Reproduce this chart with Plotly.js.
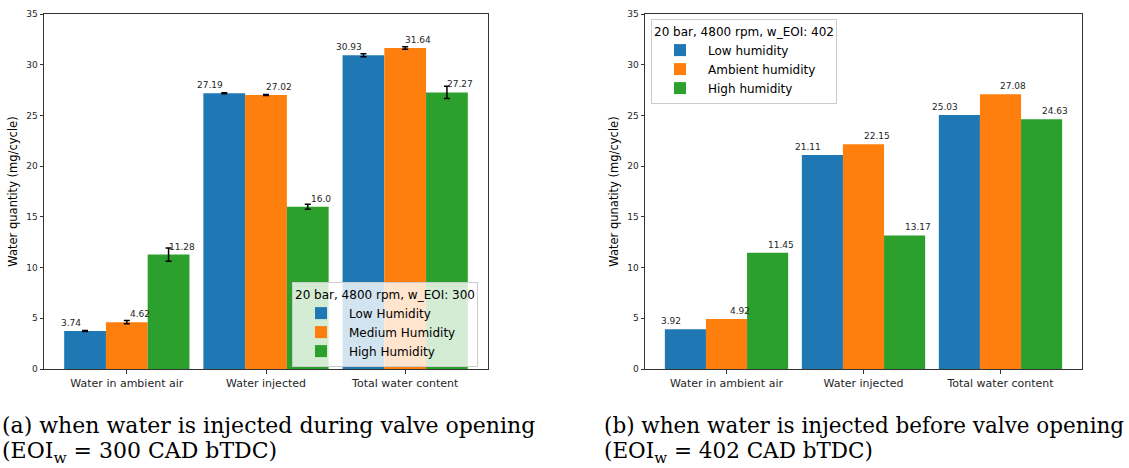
<!DOCTYPE html>
<html>
<head>
<meta charset="utf-8">
<script src="https://cdn.plot.ly/plotly-3.0.1.min.js"></script>
<style>html,body{margin:0;padding:0;background:#fff;}#chart{width:1129px;height:468px;}</style>
</head>
<body>
<div id="chart"></div>
<script>
const categories = ["Water in ambient air", "Water injected", "Total water content"];
const yTicks = [0, 5, 10, 15, 20, 25, 30, 35];

// Panel (a): EOI_w = 300
const seriesNamesA = ["Low Humidity", "Medium Humidity", "High Humidity"];
const lowA = [3.74, 27.19, 30.93];
const medA = [4.62, 27.02, 31.64];
const highA = [11.28, 16.0, 27.27];
const lowErrA = [0.05, 0.05, 0.15];
const medErrA = [0.16, 0.05, 0.12];
const highErrA = [0.66, 0.25, 0.6];
const legendTitleA = "20 bar, 4800 rpm, w_EOI: 300";

// Panel (b): EOI_w = 402
const seriesNamesB = ["Low humidity", "Ambient humidity", "High humidity"];
const lowB = [3.92, 21.11, 25.03];
const ambB = [4.92, 22.15, 27.08];
const highB = [11.45, 13.17, 24.63];
const legendTitleB = "20 bar, 4800 rpm, w_EOI: 402";

const captionA = ["(a) when water is injected during valve opening", "(EOI<sub>w</sub> = 300 CAD bTDC)"];
const captionB = ["(b) when water is injected before valve opening", "(EOI<sub>w</sub> = 402 CAD bTDC)"];

const colors = ["#1f77b4", "#ff7f0e", "#2ca02c"];
const xs = categories.map((_, i) => i);

function fmt(v) { return Number.isInteger(v) ? v.toFixed(1) : String(v); }

const traces = [];
const annotations = [];

function addPanel(seriesVals, errs, names, xa, ya, legendId) {
  seriesVals.forEach((vals, j) => {
    const t = {
      type: "bar", x: xs, y: vals, name: names[j],
      marker: {color: colors[j], line: {width: 0}},
      xaxis: xa, yaxis: ya, legend: legendId, hoverinfo: "y"
    };
    if (errs) {
      t.error_y = {type: "data", array: errs[j], visible: true, color: "#000", thickness: 1.5, width: 3};
    }
    traces.push(t);
    vals.forEach((v, i) => {
      annotations.push({
        xref: xa, yref: ya, x: i + (j - 1) * 0.3, y: v,
        text: fmt(v), showarrow: false, yanchor: "bottom", yshift: 1,
        xshift: j === 0 ? -14 : 13,
        font: {family: "DejaVu Sans", size: 9, color: "#262626"}
      });
    });
  });
}

addPanel([lowA, medA, highA], [lowErrA, medErrA, highErrA], seriesNamesA, "x", "y", "legend");
addPanel([lowB, ambB, highB], null, seriesNamesB, "x2", "y2", "legend2");

function caption(lines, x, size) {
  const f = {family: "DejaVu Serif", size: size, color: "#000"};
  annotations.push(
    {xref: "paper", yref: "paper", x: x, y: 1 - 425/468, xanchor: "left", yanchor: "middle", showarrow: false,
     text: lines[0], font: f},
    {xref: "paper", yref: "paper", x: x, y: 1 - 452/468, xanchor: "left", yanchor: "middle", showarrow: false,
     text: lines[1], font: f}
  );
}
caption(captionA, 0, 22);
caption(captionB, 602/1129, 21.5);

const tickFont = {family: "DejaVu Sans", size: 9, color: "#262626"};
function xAxis(domain, anchor) {
  return {
    domain: domain, anchor: anchor, range: [-0.595, 2.595],
    tickvals: xs, ticktext: categories, tickfont: {family: "DejaVu Sans", size: 11, color: "#262626"},
    ticks: "outside", ticklen: 3.5, tickcolor: "#333", showline: true, linecolor: "#333", linewidth: 1,
    mirror: true, showgrid: false, zeroline: false, fixedrange: true, automargin: false
  };
}
function yAxis(domain, anchor, title) {
  return {
    domain: domain, anchor: anchor, range: [0, 35], tickvals: yTicks, tickfont: tickFont,
    ticks: "outside", ticklen: 3.5, tickcolor: "#333", showline: true, linecolor: "#333", linewidth: 1,
    mirror: true, showgrid: false, zeroline: false, automargin: true,
    title: {text: title, font: {family: "DejaVu Sans", size: 11.5, color: "#000"}, standoff: 6}
  };
}

const yDom = [(468 - 369) / 468, (468 - 14) / 468];
const legendFont = {family: "DejaVu Sans", size: 12, color: "#000"};

const layout = {
  width: 1129, height: 468,
  margin: {l: 0, r: 0, t: 0, b: 0, autoexpand: false},
  paper_bgcolor: "#fff", plot_bgcolor: "#fff",
  barmode: "group", bargap: 0.1, bargroupgap: 0,
  xaxis: xAxis([44/1129, 488/1129], "y"),
  yaxis: yAxis(yDom, "x", "Water quantity (mg/cycle)"),
  xaxis2: xAxis([645/1129, 1082/1129], "y2"),
  yaxis2: yAxis(yDom, "x2", "Water qunatity (mg/cycle)"),
  legend: {
    x: 292/1129, y: 1 - 282/468, xanchor: "left", yanchor: "top",
    bgcolor: "rgba(255,255,255,0.8)", bordercolor: "#ccc", borderwidth: 1,
    font: legendFont, title: {text: legendTitleA, font: legendFont, side: "top"},
    tracegroupgap: 0, itemwidth: 46
  },
  legend2: {
    x: 651/1129, y: 1 - 19/468, xanchor: "left", yanchor: "top",
    bgcolor: "rgba(255,255,255,0.8)", bordercolor: "#ccc", borderwidth: 1,
    font: legendFont, title: {text: legendTitleB, font: legendFont, side: "top"},
    tracegroupgap: 0, itemwidth: 46
  },
  showlegend: true,
  annotations: annotations
};

Plotly.newPlot("chart", traces, layout, {displayModeBar: false, staticPlot: true});
</script>
</body>
</html>
